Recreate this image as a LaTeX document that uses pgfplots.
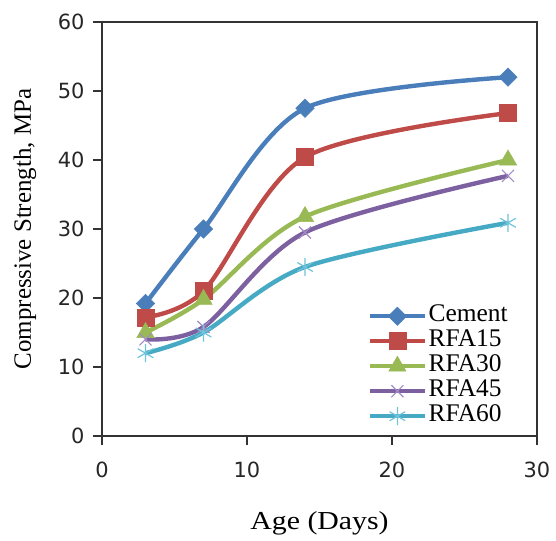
\documentclass[border=0pt]{standalone}
\usepackage{pgfplots}
\pgfplotsset{compat=1.18}
\usepackage{fontspec}
\setmainfont{Liberation Serif}
\newfontfamily\dejavu{DejaVu Sans}

\definecolor{cblue}{HTML}{4A7EBB}
\definecolor{cred}{HTML}{BE4B48}
\definecolor{cgreen}{HTML}{98B954}
\definecolor{cpurple}{HTML}{7D60A0}
\definecolor{ccyan}{HTML}{46AAC5}
\definecolor{mpurple}{HTML}{A18BC4}
\definecolor{mcyan}{HTML}{6FC3DA}

\begin{document}
\begin{tikzpicture}
\useasboundingbox (-102bp,-105bp) rectangle (454bp,436bp);
\begin{axis}[
  scale only axis, width=435bp, height=414bp,
  at={(0,0)}, anchor=south west,
  xmin=0, xmax=30, ymin=0, ymax=60,
  xtick={0,10,20,30}, ytick={0,10,...,60},
  xtick pos=left, ytick pos=left,
  tick align=outside, major tick length=9bp,
  axis line style={line width=1.2bp, black!80},
  tick style={line width=1.2bp, black!80},
  /pgf/number format/assume math mode=true,
  ticklabel style={font=\dejavu\fontsize{21}{21}\selectfont, text=black!85},
  yticklabel style={xshift=-5bp},
  xticklabel style={yshift=-13bp},
  xlabel={Age (Days)},
  ylabel={Compressive Strength, MPa},
  xlabel style={at={(axis description cs:0.5,-0.21)}, anchor=center,
    font=\fontsize{26}{26}\selectfont, xscale=1.15},
  ylabel style={at={(axis description cs:-0.177,0.5)}, anchor=center,
    font=\fontsize{25}{25}\selectfont},
  every axis plot/.append style={line width=4.4bp, smooth},
  legend style={draw=none, fill=none, inner sep=0pt,
    at={(0.6115,0.320)}, anchor=north west,
    font=\fontsize{25.5}{25.5}\selectfont,
    nodes={inner ysep=0pt, inner xsep=1bp, text height=18bp, text depth=7bp},
    row sep=0pt, column sep=1bp},
  legend cell align=left,
  legend image code/.code={\draw[mark repeat=2,mark phase=2] plot coordinates {(0bp,0bp)(27bp,0bp)(54bp,0bp)};},
]
\addplot[cblue, mark=square*, mark options={rotate=45, line width=0.5bp, fill=cblue}, mark size=6.5bp]
  coordinates {(3,19.2)(7,30)(14,47.5)(28,52)};
\addlegendentry{Cement}
\addplot[cred, mark=square*, mark options={line width=0.5bp, fill=cred}, mark size=8.5bp]
  coordinates {(3,17.2)(7,21)(14,40.4)(28,46.8)};
\addlegendentry{RFA15}
\addplot[cgreen, mark=triangle*, mark options={line width=0.5bp, fill=cgreen}, mark size=10bp]
  coordinates {(3,15)(7,19.8)(14,31.8)(28,40)};
\addlegendentry{RFA30}
\addplot[cpurple, mark=x, mark options={line width=1.2bp, draw=mpurple}, mark size=8.5bp]
  coordinates {(3,14)(7,15.8)(14,29.5)(28,37.7)};
\addlegendentry{RFA45}
\addplot[ccyan, mark=asterisk, mark options={line width=1.2bp, draw=mcyan}, mark size=9bp]
  coordinates {(3,12)(7,15)(14,24.5)(28,30.9)};
\addlegendentry{RFA60}
\end{axis}
\end{tikzpicture}
\end{document}
